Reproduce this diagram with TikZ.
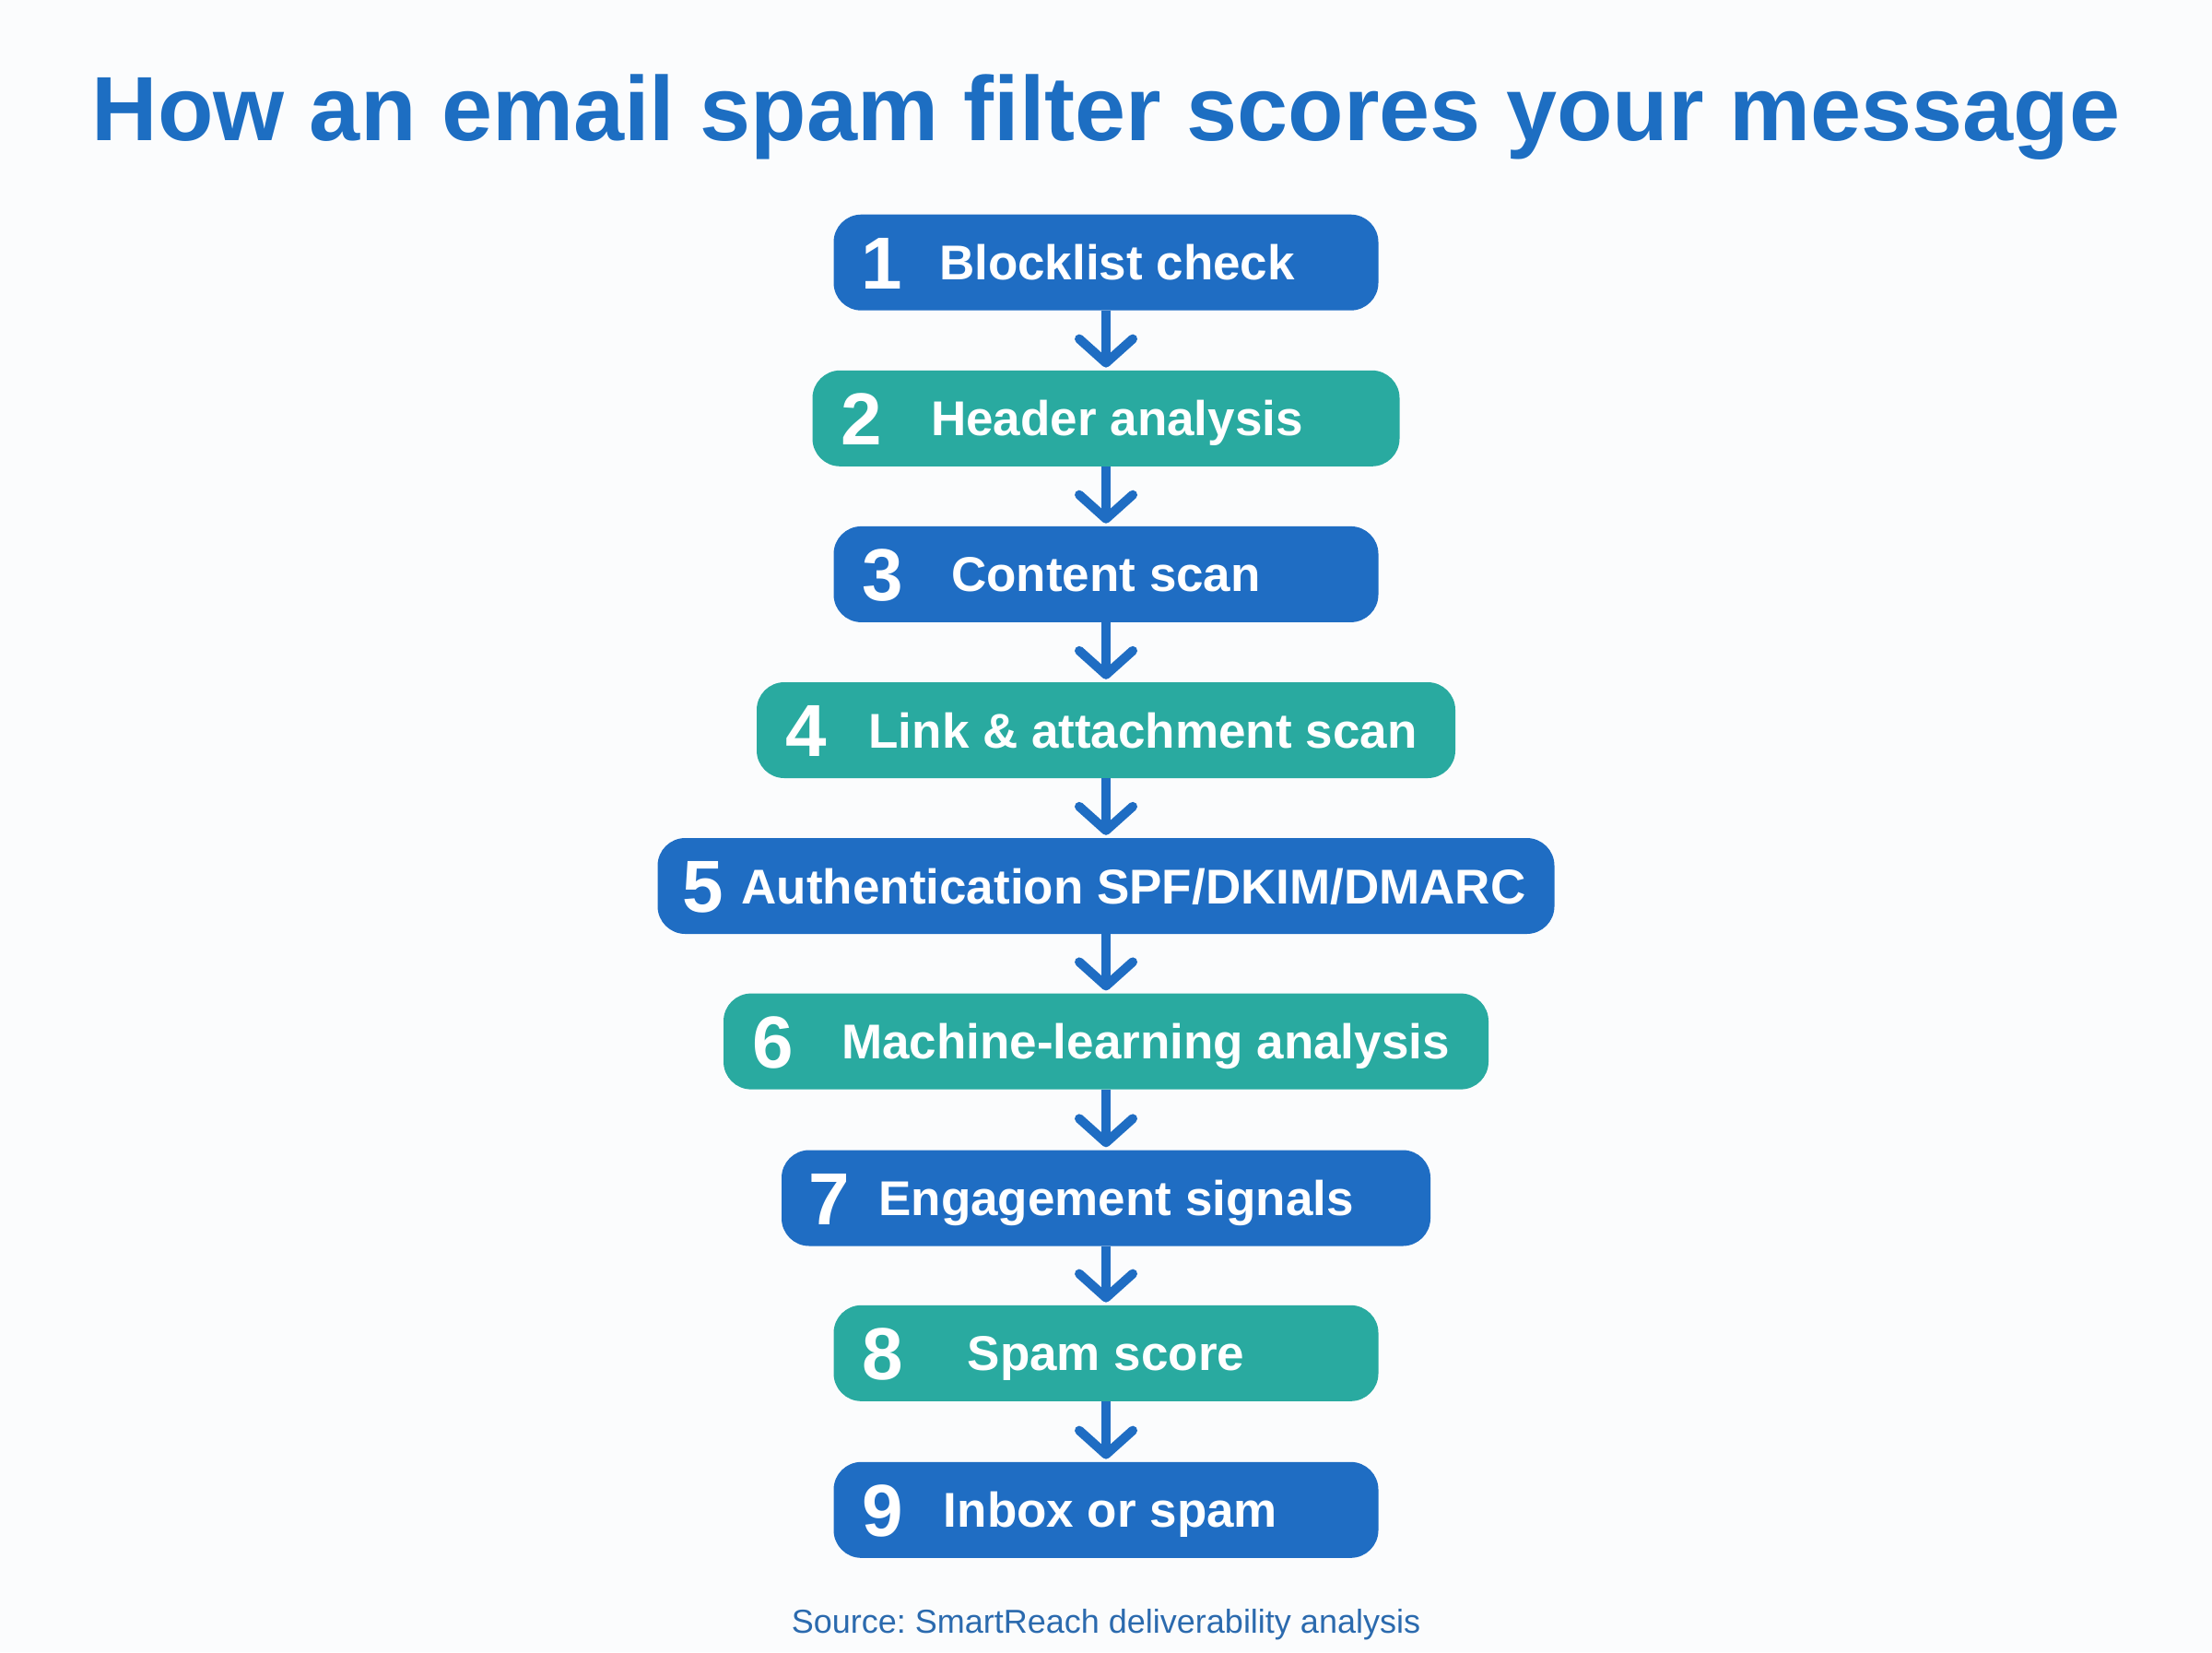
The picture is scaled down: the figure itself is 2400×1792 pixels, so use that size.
\documentclass[tikz,border=0pt]{standalone}
\usepackage{fontspec}
\setmainfont{Liberation Sans}
\usetikzlibrary{arrows.meta}
\frenchspacing
\definecolor{titleblue}{HTML}{1D6EC2}
\definecolor{boxblue}{HTML}{1F6DC3}
\definecolor{boxteal}{HTML}{29AAA0}
\definecolor{srcblue}{HTML}{2B6AAE}
\definecolor{bgc}{HTML}{FBFCFD}
\begin{document}
\begin{tikzpicture}[x=1pt,y=-1pt,
  stepbox/.style={rounded corners=30pt, minimum height=104pt, inner sep=0pt, draw=none},
  bluebox/.style={stepbox, fill=boxblue},
  tealbox/.style={stepbox, fill=boxteal},
  num/.style={text=white, font=\bfseries\fontsize{80}{80}\selectfont, anchor=base, inner sep=0pt},
  lbl/.style={text=white, font=\bfseries\fontsize{53}{53}\selectfont, anchor=base, inner sep=0pt},
  flow/.style={draw=boxblue, line width=10pt, shorten >=3pt, -{Straight Barb[length=26pt,width=58pt,round]}}
]
\useasboundingbox (0,0) rectangle (2400,1792);
\fill[bgc] (0,0) rectangle (2400,1792);

\node[text=titleblue, font=\bfseries\fontsize{99}{99}\selectfont, anchor=base, inner sep=0pt] (title) at (1200,152) {How an email spam filter scores your message};

\node[bluebox, minimum width=591pt] (b1) at (1200,284.7) {};
\node[tealbox, minimum width=637pt] (b2) at (1200,453.8) {};
\node[bluebox, minimum width=591pt] (b3) at (1200,622.9) {};
\node[tealbox, minimum width=758pt] (b4) at (1200,792) {};
\node[bluebox, minimum width=973pt] (b5) at (1200,961) {};
\node[tealbox, minimum width=830pt] (b6) at (1200,1129.6) {};
\node[bluebox, minimum width=704pt] (b7) at (1200,1299.5) {};
\node[tealbox, minimum width=591pt] (b8) at (1200,1467.8) {};
\node[bluebox, minimum width=591pt] (b9) at (1200,1637.8) {};

\node[num] (n1) at ([xshift=52pt,yshift=-28.5pt]b1.west) {1};
\node[num] (n2) at ([xshift=53pt,yshift=-28.5pt]b2.west) {2};
\node[num] (n3) at ([xshift=53pt,yshift=-28.5pt]b3.west) {3};
\node[num] (n4) at ([xshift=54pt,yshift=-28.5pt]b4.west) {4};
\node[num] (n5) at ([xshift=49pt,yshift=-28.5pt]b5.west) {5};
\node[num] (n6) at ([xshift=54pt,yshift=-28.5pt]b6.west) {6};
\node[num] (n7) at ([xshift=52pt,yshift=-28.5pt]b7.west) {7};
\node[num] (n8) at ([xshift=53pt,yshift=-28.5pt]b8.west) {8};
\node[num] (n9) at ([xshift=53pt,yshift=-28.5pt]b9.west) {9};

\node[lbl] (t1) at ([xshift=12pt,yshift=-19pt]b1.center) {Blocklist check};
\node[lbl] (t2) at ([xshift=12pt,yshift=-19pt]b2.center) {Header analysis};
\node[lbl] (t3) at ([xshift=0pt,yshift=-19pt]b3.center) {Content scan};
\node[lbl] (t4) at ([xshift=40pt,yshift=-19pt]b4.center) {Link \& attachment scan};
\node[lbl] (t5) at ([xshift=30pt,yshift=-19pt]b5.center) {Authentication SPF/DKIM/DMARC};
\node[lbl] (t6) at ([xshift=43pt,yshift=-19pt]b6.center) {Machine-learning analysis};
\node[lbl] (t7) at ([xshift=11pt,yshift=-19pt]b7.center) {Engagement signals};
\node[lbl] (t8) at ([xshift=0pt,yshift=-19pt]b8.center) {Spam score};
\node[lbl] (t9) at ([xshift=5pt,yshift=-19pt]b9.center) {Inbox or spam};

\draw[flow] (b1.south) -- (b2.north);
\draw[flow] (b2.south) -- (b3.north);
\draw[flow] (b3.south) -- (b4.north);
\draw[flow] (b4.south) -- (b5.north);
\draw[flow] (b5.south) -- (b6.north);
\draw[flow] (b6.south) -- (b7.north);
\draw[flow] (b7.south) -- (b8.north);
\draw[flow] (b8.south) -- (b9.north);

\node[text=srcblue, font=\fontsize{36}{36}\selectfont, anchor=base, inner sep=0pt] (src) at (1200,1771) {Source: SmartReach deliverability analysis};
\end{tikzpicture}
\end{document}
